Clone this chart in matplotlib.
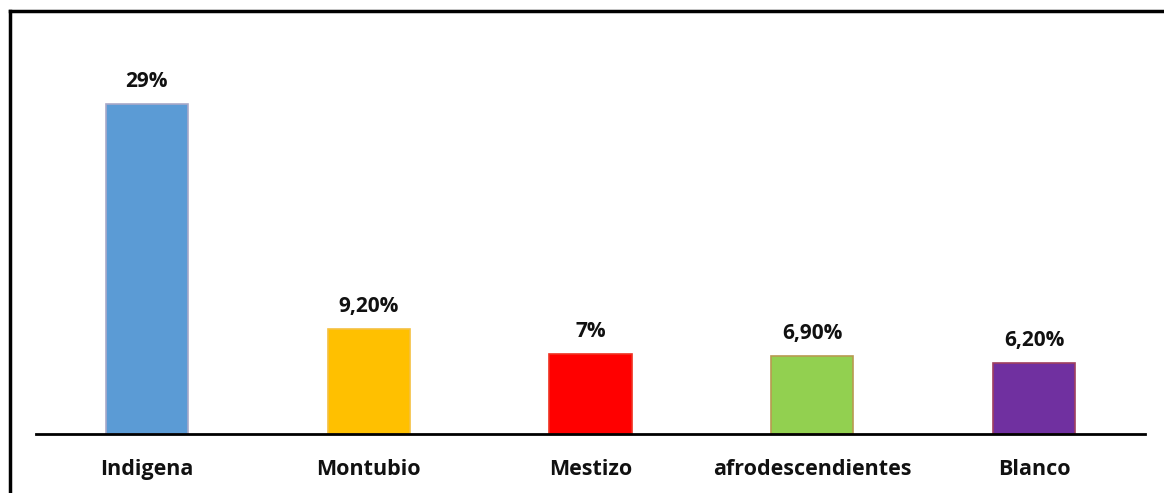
import matplotlib.pyplot as plt
from matplotlib.lines import Line2D

categories = ['Indigena', 'Montubio', 'Mestizo', 'afrodescendientes', 'Blanco']
values = [29, 9.2, 7, 6.9, 6.2]
labels = ['29%', '9,20%', '7%', '6,90%', '6,20%']
colors = ['#5B9BD5', '#FFC000', '#FF0000', '#92D050', '#7030A0']
edges = ['#A9A9C8', '#F5C040', '#F03020', '#B89A50', '#A04060']

plt.rcParams['font.family'] = ['Open Sans', 'DejaVu Sans']

fig = plt.figure(figsize=(11.64, 4.93), dpi=100)
ax = fig.add_axes([36 / 1164, 59 / 493, 1109 / 1164, 398 / 493])

x = range(len(categories))
bars = ax.bar(x, values, width=0.37, color=colors, edgecolor=edges, linewidth=1.2)

for b, lab in zip(bars, labels):
    ax.annotate(lab, (b.get_x() + b.get_width() / 2, b.get_height()),
                xytext=(0, 17), textcoords='offset pixels',
                ha='center', va='baseline', fontsize=15, fontweight='bold', color='#111111')

ax.set_xlim(-0.5, 4.5)
ax.set_ylim(0, 35)
ax.set_xticks(list(x))
ax.set_xticklabels(categories, fontsize=15.5, fontweight='bold', color='#111111')
ax.tick_params(axis='x', length=0, pad=18)
ax.set_yticks([])
for s in ['top', 'right', 'left']:
    ax.spines[s].set_visible(False)
ax.spines['bottom'].set_linewidth(2)
ax.spines['bottom'].set_color('black')

# outer frame (top and left only)
fig.add_artist(Line2D([9.5 / 1164, 1], [1 - 10.5 / 493, 1 - 10.5 / 493],
                      transform=fig.transFigure, color='black', linewidth=2.5))
fig.add_artist(Line2D([9.5 / 1164, 9.5 / 1164], [0, 1 - 10.5 / 493],
                      transform=fig.transFigure, color='black', linewidth=2.5))

fig.savefig('out.png', dpi=100)
